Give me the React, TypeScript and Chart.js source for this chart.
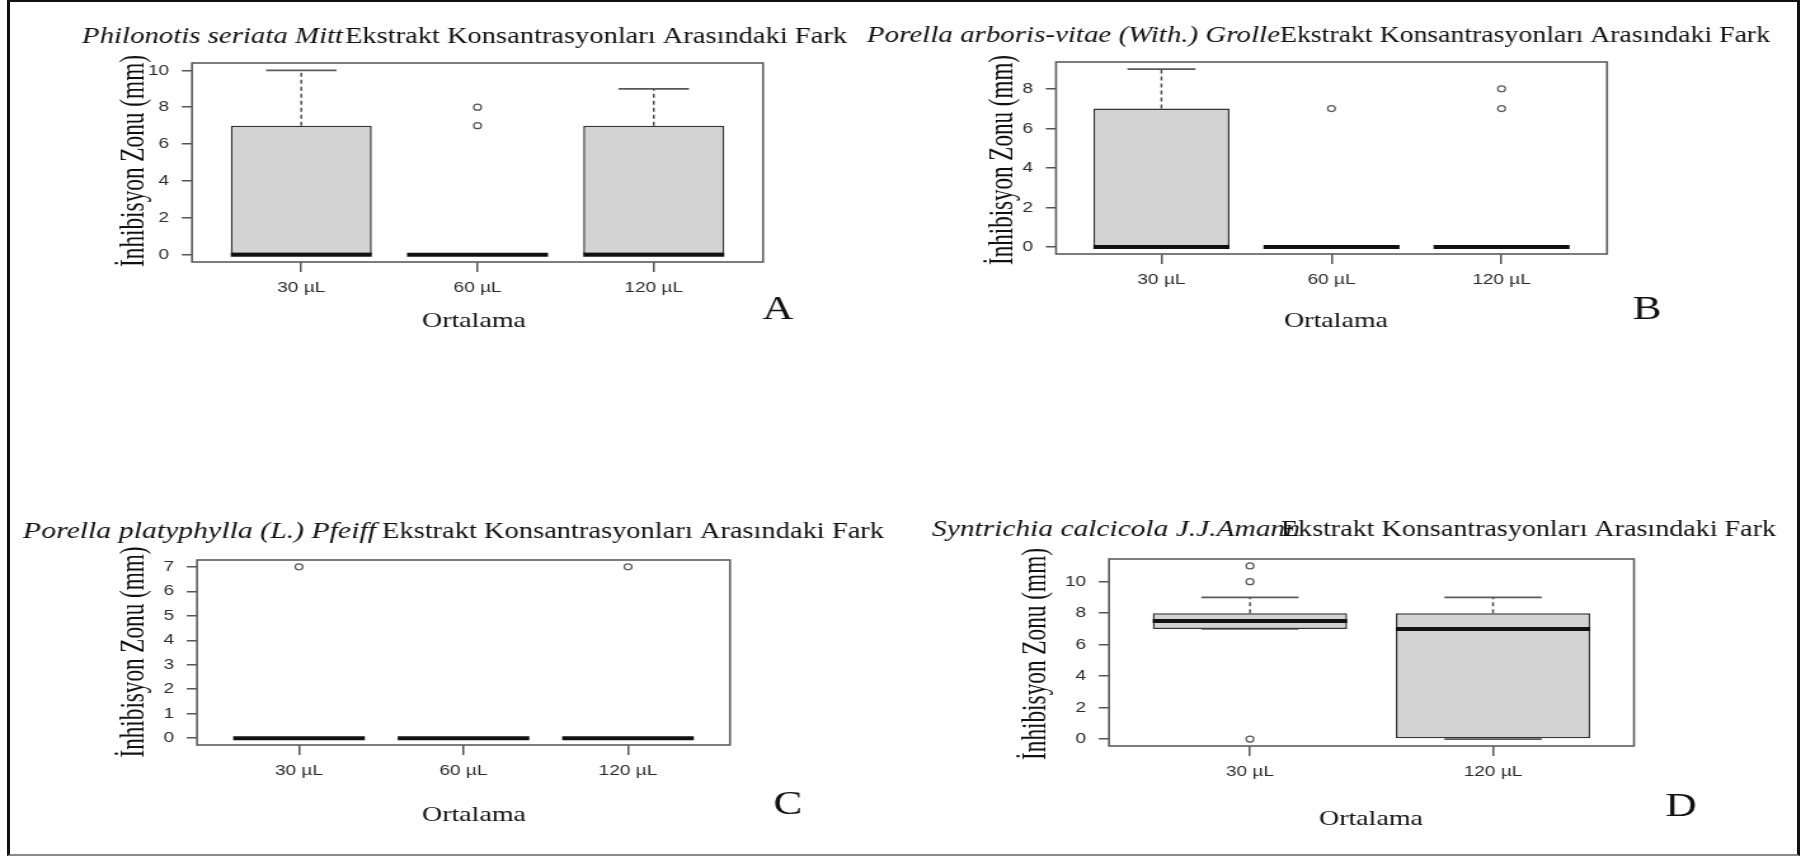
import React, { useEffect, useRef } from 'react';
import { Chart, registerables } from 'chart.js';

Chart.register(...registerables);

// ---------------- data ----------------
const categoriesABC = ['30 µL', '60 µL', '120 µL'];
const categoriesD = ['30 µL', '120 µL'];

const speciesNames = [
  'Philonotis seriata Mitt',
  'Porella arboris-vitae (With.) Grolle',
  'Porella platyphylla (L.) Pfeiff',
  'Syntrichia calcicola J.J.Amann',
];
const titleSuffix = 'Ekstrakt Konsantrasyonları Arasındaki Fark';
const panelLetters = ['A', 'B', 'C', 'D'];
const xAxisTitle = 'Ortalama';
const yAxisTitle = 'İnhibisyon Zonu (mm)';

// Panel A
const aLower = [0, 0, 0];
const aQ1 = [0, 0, 0];
const aMedian = [0, 0, 0];
const aQ3 = [7, 0, 7];
const aUpper = [10, 0, 9];
const aOutliers = [[], [7, 8], []];
const aTicks = [0, 2, 4, 6, 8, 10];

// Panel B
const bLower = [0, 0, 0];
const bQ1 = [0, 0, 0];
const bMedian = [0, 0, 0];
const bQ3 = [7, 0, 0];
const bUpper = [9, 0, 0];
const bOutliers = [[], [7], [7, 8]];
const bTicks = [0, 2, 4, 6, 8];

// Panel C
const cLower = [0, 0, 0];
const cQ1 = [0, 0, 0];
const cMedian = [0, 0, 0];
const cQ3 = [0, 0, 0];
const cUpper = [0, 0, 0];
const cOutliers = [[7], [], [7]];
const cTicks = [0, 1, 2, 3, 4, 5, 6, 7];

// Panel D
const dLower = [7, 0];
const dQ1 = [7, 0];
const dMedian = [7.5, 7];
const dQ3 = [8, 8];
const dUpper = [9, 9];
const dOutliers = [[0, 10, 11], []];
const dTicks = [0, 2, 4, 6, 8, 10];

// ---------------- layout (page pixels) ----------------
const PAGE_W = 1801;
const PAGE_H = 857;
const STRETCH = 1.27; // the reference is horizontally stretched
const CANVAS_W = Math.round(PAGE_W / STRETCH);
const SX = PAGE_W / CANVAS_W;

const panelLayout = [
  {
    frame: { l: 192, r: 763, t: 63, b: 262 },
    title: { x1: 82, w1: 261, x2: 345, w2: 502, base: 43 },
    yLab: { cx: 134, cy: 161, len: 212 },
    xLab: { cx: 474, base: 327 },
    letter: { cx: 778, base: 319 },
  },
  {
    frame: { l: 1056, r: 1607, t: 62, b: 254 },
    title: { x1: 867, w1: 413, x2: 1280, w2: 490, base: 42 },
    yLab: { cx: 1003, cy: 160, len: 210 },
    xLab: { cx: 1336, base: 327 },
    letter: { cx: 1647, base: 319 },
  },
  {
    frame: { l: 197, r: 730, t: 560, b: 745 },
    title: { x1: 23, w1: 353, x2: 382, w2: 502, base: 538 },
    yLab: { cx: 135, cy: 652, len: 211 },
    xLab: { cx: 474, base: 821 },
    letter: { cx: 788, base: 814 },
  },
  {
    frame: { l: 1109, r: 1634, t: 559, b: 746 },
    title: { x1: 932, w1: 368, x2: 1281, w2: 495, base: 536 },
    yLab: { cx: 1036, cy: 654, len: 212 },
    xLab: { cx: 1371, base: 825 },
    letter: { cx: 1681, base: 816 },
  },
];

type PanelData = {
  categories: string[];
  lower: number[];
  q1: number[];
  median: number[];
  q3: number[];
  upper: number[];
  outliers: number[][];
  ticks: number[];
};

const panels: PanelData[] = [
  { categories: categoriesABC, lower: aLower, q1: aQ1, median: aMedian, q3: aQ3, upper: aUpper, outliers: aOutliers, ticks: aTicks },
  { categories: categoriesABC, lower: bLower, q1: bQ1, median: bMedian, q3: bQ3, upper: bUpper, outliers: bOutliers, ticks: bTicks },
  { categories: categoriesABC, lower: cLower, q1: cQ1, median: cMedian, q3: cQ3, upper: cUpper, outliers: cOutliers, ticks: cTicks },
  { categories: categoriesD, lower: dLower, q1: dQ1, median: dMedian, q3: dQ3, upper: dUpper, outliers: dOutliers, ticks: dTicks },
];

const SERIF = "'Liberation Serif', 'Times New Roman', serif";
const SANS = "'Liberation Sans', Arial, sans-serif";
const BOX_HALF = 0.4;
const STAPLE_HALF = 0.2;

function fitText(ctx: CanvasRenderingContext2D, text: string, x: number, y: number, font: string, width: number) {
  ctx.save();
  ctx.font = font;
  const w = ctx.measureText(text).width;
  ctx.translate(x, y);
  ctx.scale(width / w, 1);
  ctx.textAlign = 'left';
  ctx.textBaseline = 'alphabetic';
  ctx.fillText(text, 0, 0);
  ctx.restore();
}

function buildConfig(idx: number): any {
  const p = panels[idx];
  const lay = panelLayout[idx];
  const n = p.categories.length;
  const allVals = [...p.lower, ...p.upper, ...p.q1, ...p.q3, ...p.outliers.flat()];
  const vMin = Math.min(...allVals);
  const vMax = Math.max(...allVals);
  const yExt = (vMax - vMin) * 0.04;
  const xExt = n * 0.04;

  const L = lay.frame.l / SX;
  const R = lay.frame.r / SX;
  const yAxisW = 40;
  const xAxisH = 40;

  const boxData = p.categories.map((_, i) => ({ x: i + 1, y: [p.q1[i], p.q3[i]] }));
  const outlierData: { x: number; y: number }[] = [];
  p.outliers.forEach((arr, i) => arr.forEach((v) => outlierData.push({ x: i + 1, y: v })));

  const line = (ctx: CanvasRenderingContext2D, x1: number, y1: number, x2: number, y2: number) => {
    ctx.beginPath();
    ctx.moveTo(x1, y1);
    ctx.lineTo(x2, y2);
    ctx.stroke();
  };

  const boxPlugin = {
    id: 'boxWhiskers' + idx,
    beforeDatasetsDraw(chart: any) {
      const { ctx, scales } = chart;
      const xs = scales.x;
      const ys = scales.y;
      ctx.save();
      p.categories.forEach((_, i) => {
        const xc = xs.getPixelForValue(i + 1);
        const sw = xs.getPixelForValue(i + 1 + STAPLE_HALF) - xc;
        ctx.strokeStyle = '#444';
        ctx.lineWidth = 1.4;
        ctx.setLineDash([4, 3]);
        if (p.upper[i] > p.q3[i]) line(ctx, xc, ys.getPixelForValue(p.q3[i]), xc, ys.getPixelForValue(p.upper[i]));
        if (p.lower[i] < p.q1[i]) line(ctx, xc, ys.getPixelForValue(p.q1[i]), xc, ys.getPixelForValue(p.lower[i]));
        ctx.setLineDash([]);
        ctx.strokeStyle = '#5a5a5a';
        ctx.lineWidth = 1.8;
        line(ctx, xc - sw, ys.getPixelForValue(p.upper[i]), xc + sw, ys.getPixelForValue(p.upper[i]));
        line(ctx, xc - sw, ys.getPixelForValue(p.lower[i]), xc + sw, ys.getPixelForValue(p.lower[i]));
      });
      ctx.restore();
    },
    afterDatasetsDraw(chart: any) {
      const { ctx, scales } = chart;
      const xs = scales.x;
      const ys = scales.y;
      ctx.save();
      ctx.strokeStyle = '#111';
      ctx.lineWidth = 4;
      ctx.lineCap = 'butt';
      p.categories.forEach((_, i) => {
        const xc = xs.getPixelForValue(i + 1);
        const bw = xs.getPixelForValue(i + 1 + BOX_HALF) - xc;
        const ym = ys.getPixelForValue(p.median[i]);
        line(ctx, xc - bw, ym, xc + bw, ym);
      });
      ctx.restore();
    },
  };

  const framePlugin = {
    id: 'frame' + idx,
    afterDraw(chart: any) {
      const { ctx, chartArea } = chart;
      ctx.save();
      ctx.strokeStyle = '#5c5c5c';
      ctx.lineWidth = 1.6;
      ctx.strokeRect(chartArea.left, chartArea.top, chartArea.right - chartArea.left, chartArea.bottom - chartArea.top);
      ctx.restore();
    },
  };

  const textPlugin = {
    id: 'texts' + idx,
    afterDraw(chart: any) {
      const ctx: CanvasRenderingContext2D = chart.ctx;
      ctx.save();
      ctx.fillStyle = '#111';
      // title: italic species + regular suffix
      const t = lay.title;
      fitText(ctx, speciesNames[idx], t.x1 / SX, t.base, `italic 23px ${SERIF}`, t.w1 / SX);
      fitText(ctx, titleSuffix, t.x2 / SX, t.base, `23px ${SERIF}`, t.w2 / SX);
      // y axis label (rotated)
      ctx.save();
      ctx.font = `23px ${SERIF}`;
      const w = ctx.measureText(yAxisTitle).width;
      ctx.translate(lay.yLab.cx / SX, lay.yLab.cy + lay.yLab.len / 2);
      ctx.rotate(-Math.PI / 2);
      ctx.scale(lay.yLab.len / w, 1.18);
      ctx.textAlign = 'left';
      ctx.textBaseline = 'middle';
      ctx.fillText(yAxisTitle, 0, 0);
      ctx.restore();
      // x axis label
      ctx.font = `22px ${SERIF}`;
      ctx.textAlign = 'center';
      ctx.textBaseline = 'alphabetic';
      ctx.fillText(xAxisTitle, lay.xLab.cx / SX, lay.xLab.base);
      // panel letter
      ctx.font = `34px ${SERIF}`;
      ctx.fillText(panelLetters[idx], lay.letter.cx / SX, lay.letter.base);
      ctx.restore();
    },
  };

  return {
    type: 'bar',
    data: {
      datasets: [
        {
          type: 'bar',
          data: boxData,
          backgroundColor: '#d3d3d3',
          borderColor: '#333',
          borderWidth: 1.5,
          borderSkipped: false,
          barPercentage: 0.8,
          categoryPercentage: 1.0,
        },
        {
          type: 'scatter',
          data: outlierData,
          pointStyle: 'circle',
          pointRadius: 3,
          pointBorderWidth: 1.2,
          pointBorderColor: '#555',
          pointBackgroundColor: 'rgba(0,0,0,0)',
        },
      ],
    },
    options: {
      animation: false,
      responsive: false,
      maintainAspectRatio: false,
      events: [],
      layout: {
        autoPadding: false,
        padding: {
          left: L - yAxisW,
          right: CANVAS_W - R,
          top: lay.frame.t,
          bottom: PAGE_H - lay.frame.b - xAxisH,
        },
      },
      plugins: {
        legend: { display: false },
        tooltip: { enabled: false },
        title: { display: false },
      },
      scales: {
        x: {
          type: 'linear',
          min: 0.5 - xExt,
          max: n + 0.5 + xExt,
          offset: false,
          bounds: 'data',
          afterBuildTicks: (axis: any) => {
            axis.ticks = p.categories.map((_, i) => ({ value: i + 1 }));
          },
          afterFit: (axis: any) => {
            axis.height = xAxisH;
          },
          ticks: {
            autoSkip: false,
            maxRotation: 0,
            padding: 7,
            color: '#2a2a2a',
            font: { family: SANS, size: 15 },
            callback: (v: number) => p.categories[Math.round(v) - 1] ?? '',
          },
          grid: { offset: false, drawOnChartArea: false, drawTicks: true, tickLength: 10, color: '#555', lineWidth: 1.5 },
          border: { display: false },
        },
        y: {
          type: 'linear',
          min: vMin - yExt,
          max: vMax + yExt,
          bounds: 'data',
          afterBuildTicks: (axis: any) => {
            axis.ticks = p.ticks.map((v) => ({ value: v }));
          },
          afterFit: (axis: any) => {
            axis.width = yAxisW;
          },
          ticks: {
            padding: 10,
            color: '#2a2a2a',
            font: { family: SANS, size: 15 },
          },
          grid: { offset: false, drawOnChartArea: false, drawTicks: true, tickLength: 8, color: '#555', lineWidth: 1.5 },
          border: { display: false },
        },
      },
    },
    plugins: [boxPlugin, framePlugin, textPlugin],
  };
}

function Panel({ idx }: { idx: number }) {
  const ref = useRef<HTMLCanvasElement>(null);
  useEffect(() => {
    if (!ref.current) return;
    const chart = new Chart(ref.current, buildConfig(idx));
    return () => chart.destroy();
  }, [idx]);
  return (
    <canvas
      ref={ref}
      width={CANVAS_W}
      height={PAGE_H}
      style={{ position: 'absolute', left: 0, top: 0, width: `${PAGE_W}px`, height: `${PAGE_H}px` }}
    />
  );
}

export default function App() {
  return (
    <div
      style={{
        position: 'absolute',
        left: 0,
        top: 0,
        width: PAGE_W,
        height: PAGE_H,
        background: '#ffffff',
        overflow: 'hidden',
      }}
    >
      {panels.map((_, i) => (
        <Panel key={i} idx={i} />
      ))}
      <div
        style={{
          position: 'absolute',
          left: 7,
          top: 0,
          width: 1793,
          height: 856,
          boxSizing: 'border-box',
          borderLeft: '3px solid #111',
          borderTop: '2px solid #111',
          borderRight: '3px solid #111',
          borderBottom: '2px solid #8a8a8a',
          pointerEvents: 'none',
        }}
      />
    </div>
  );
}
